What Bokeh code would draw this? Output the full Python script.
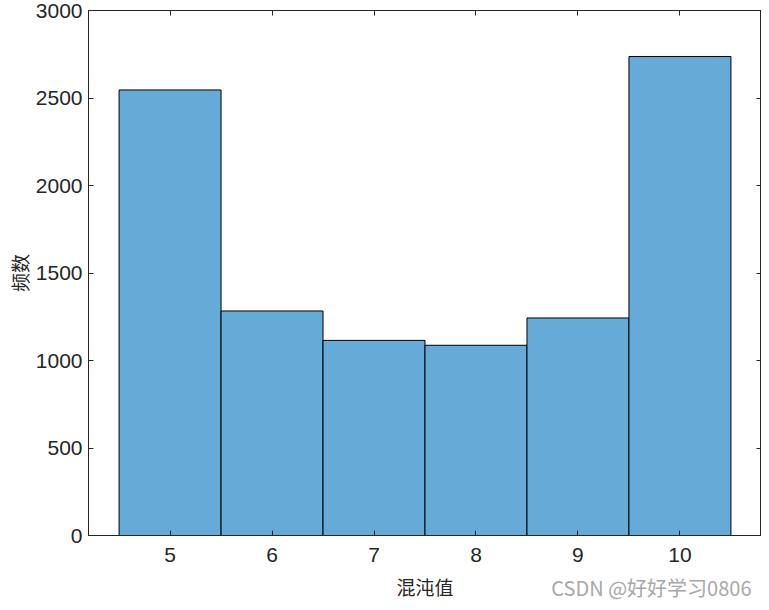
from bokeh.plotting import figure
from bokeh.models import Range1d, LinearAxis, FixedTicker, Title, ColumnDataSource
from bokeh.embed import file_html
from bokeh.resources import INLINE

centers = [5, 6, 7, 8, 9, 10]
counts = [2546, 1283, 1115, 1087, 1243, 2737]
x_ticks = [5, 6, 7, 8, 9, 10]
y_ticks = [0, 500, 1000, 1500, 2000, 2500, 3000]

src = ColumnDataSource(dict(x=centers, top=counts))

AX = "#262626"
p = figure(width=761, height=602, output_backend="svg", toolbar_location=None,
           x_range=Range1d(4.2, 10.8), y_range=Range1d(0, 3000),
           min_border_left=88, min_border_top=10, min_border_right=0, min_border_bottom=10)
p.grid.visible = False
p.outline_line_color = AX
p.outline_line_width = 1
p.border_fill_color = "white"
p.background_fill_color = "white"

p.vbar(x="x", top="top", bottom=0, width=1.0, source=src,
       fill_color="#66AAD7", line_color="black", line_width=1)

for ax, ticks in ((p.xaxis[0], x_ticks), (p.yaxis[0], y_ticks)):
    ax.ticker = FixedTicker(ticks=ticks)
    ax.major_tick_in = 5
    ax.major_tick_out = 0
    ax.minor_tick_line_color = None
    ax.axis_line_color = AX
    ax.major_tick_line_color = AX
    ax.major_label_text_color = AX
    ax.major_label_text_font = "Liberation Sans"
    ax.major_label_text_font_size = "21px"
    ax.axis_label_text_font = "Noto Sans CJK SC"
    ax.axis_label_text_font_size = "19px"
    ax.axis_label_text_font_style = "normal"
    ax.axis_label_text_color = AX

p.xaxis[0].axis_label = "混沌值"
p.xaxis[0].major_label_standoff = 12
p.xaxis[0].axis_label_standoff = 8
p.yaxis[0].axis_label = "频数"
p.yaxis[0].major_label_standoff = 6
p.yaxis[0].axis_label_standoff = 0

top_ax = LinearAxis(ticker=FixedTicker(ticks=x_ticks), major_tick_in=5, major_tick_out=0,
                    minor_tick_line_color=None, axis_line_color=AX, major_tick_line_color=AX,
                    major_label_text_font_size="0px", major_label_standoff=0)
right_ax = LinearAxis(ticker=FixedTicker(ticks=y_ticks), major_tick_in=5, major_tick_out=0,
                      minor_tick_line_color=None, axis_line_color=AX, major_tick_line_color=AX,
                      major_label_text_font_size="0px", major_label_standoff=0)
p.add_layout(top_ax, "above")
p.add_layout(right_ax, "right")

wm = Title(text="CSDN @好好学习0806", align="right", vertical_align="top", standoff=-60,
           offset=10, text_font="Noto Sans CJK SC", text_font_size="20px",
           text_font_style="normal", text_color="#A8A8A8")
p.add_layout(wm, "below")

open("out.html", "w").write(file_html(p, INLINE))
